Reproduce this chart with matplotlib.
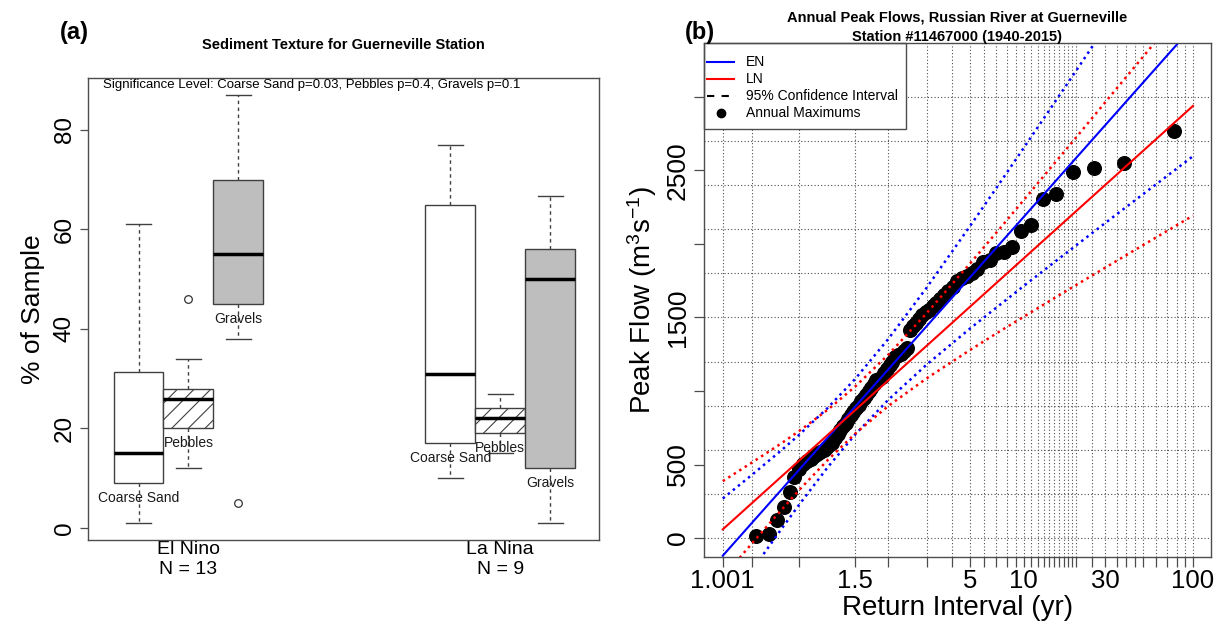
import numpy as np
import matplotlib
matplotlib.use("Agg")
import matplotlib.pyplot as plt
from matplotlib.patches import Rectangle
from matplotlib.ticker import FixedLocator, FixedFormatter, NullLocator

plt.rcParams['font.family'] = ['Liberation Sans', 'DejaVu Sans']
plt.rcParams['mathtext.fontset'] = 'custom'
plt.rcParams['mathtext.rm'] = 'Liberation Sans'
plt.rcParams['mathtext.it'] = 'Liberation Sans:italic'
plt.rcParams['hatch.linewidth'] = 0.8

# ---------------- Panel (a) data ----------------
groups = ["El Nino", "La Nina"]
group_n = [13, 9]
textures = ["Coarse Sand", "Pebbles", "Gravels"]
# (whislo, q1, median, q3, whishi, fliers)
el_nino_stats = {
    "Coarse Sand": (1, 9, 15, 31.3, 61, []),
    "Pebbles": (12, 20, 26, 28, 34, [46]),
    "Gravels": (38, 45, 55, 70, 87, [5]),
}
la_nina_stats = {
    "Coarse Sand": (10, 17, 31, 65, 77, []),
    "Pebbles": (15, 19.1, 22, 24, 27, []),
    "Gravels": (1, 12, 50, 56, 66.7, []),
}
sig_text = "Significance Level: Coarse Sand p=0.03, Pebbles p=0.4, Gravels p=0.1"

# ---------------- Panel (b) data ----------------
peak_flows = [2769, 2553, 2515, 2492, 2338, 2304, 2129, 2091, 1978, 1948,
              1941, 1891, 1875, 1830, 1800, 1785, 1770, 1745, 1710, 1680,
              1655, 1625, 1600, 1575, 1551, 1535, 1517, 1490, 1460, 1440,
              1415, 1291, 1275, 1255, 1245, 1230, 1200, 1175, 1150, 1120,
              1095, 1085, 1075, 1050, 1020, 1000, 975, 950, 930, 905,
              885, 860, 835, 810, 781, 760, 735, 710, 680, 645,
              630, 615, 600, 585, 570, 555, 540, 525, 505, 470,
              415, 315, 209, 122, 25, 14]
fit_T = [1.001, 100]
en_fit = [-120, 3480]
ln_fit = [59, 2939]
ci_T = [1.001, 1.01, 1.05, 1.1, 1.25, 1.5, 2, 3, 5, 7, 10, 15, 20, 30, 50, 70, 100]
en_upper = [269, 429, 599, 701, 885, 1082, 1354, 1705, 2120, 2382, 2655, 2960, 3174, 3476, 3853, 4101, 4363]
en_lower = [-509, -221, 65, 225, 481, 704, 940, 1181, 1424, 1568, 1715, 1876, 1988, 2144, 2337, 2463, 2597]
ln_upper = [387, 513, 646, 727, 872, 1030, 1247, 1531, 1866, 2078, 2300, 2548, 2721, 2966, 3271, 3471, 3685]
ln_lower = [-269, -37, 194, 325, 530, 710, 898, 1087, 1278, 1392, 1506, 1632, 1719, 1840, 1991, 2089, 2193]
x_grid_T = [1.001, 1.01, 1.1, 1.5, 2, 3, 4, 5, 6, 7, 8, 9, 10, 11, 12, 13, 14, 15,
            16, 17, 18, 19, 20, 25, 30, 35, 40, 45, 50, 60, 70, 80, 90, 100]
x_label_T = {1.001: "1.001", 1.5: "1.5", 5: "5", 10: "10", 30: "30", 100: "100"}
y_ticks_b = [0, 500, 1000, 1500, 2000, 2500, 3000]
y_ticklabels_b = ["0", "500", "", "1500", "", "2500", ""]
y_grid_b = [0, 300, 600, 900, 1200, 1500, 1800, 2100, 2400, 2700, 3000]
legend_labels = ["EN", "LN", "95% Confidence Interval", "Annual Maximums"]

fig = plt.figure(figsize=(12.24, 6.31), dpi=100)
W, H = 1224, 631

def ax_rect(l, t, r, b):
    return [l / W, 1 - b / H, (r - l) / W, (b - t) / H]

# ================= Panel (a) =================
axa = fig.add_axes(ax_rect(88, 78, 599, 540))
fills = {"Coarse Sand": ("white", None), "Pebbles": ("white", "//"), "Gravels": ("#bebebe", None)}
offsets = [-0.16, 0.0, 0.16]
edge = "0.25"
for gi, stats_d in enumerate([el_nino_stats, la_nina_stats]):
    for ti, tex in enumerate(textures):
        wl, q1, med, q3, wh, fl = stats_d[tex]
        pos = gi + 1 + offsets[ti]
        st = [dict(whislo=wl, q1=q1, med=med, q3=q3, whishi=wh, fliers=fl)]
        fc, hatch = fills[tex]
        axa.bxp(st, positions=[pos], widths=0.16, capwidths=0.08, patch_artist=True,
                boxprops=dict(facecolor=fc, edgecolor=edge, linewidth=1.0, hatch=hatch),
                whiskerprops=dict(color=edge, linewidth=1.0, linestyle=(0, (2.5, 2.5))),
                capprops=dict(color=edge, linewidth=1.0),
                medianprops=dict(color="black", linewidth=2.5),
                flierprops=dict(marker="o", markerfacecolor="none", markeredgecolor="0.2",
                                markersize=5.5, markeredgewidth=0.9),
                manage_ticks=False)
        axa.text(pos, q1 - 1.6, tex, ha="center", va="top", fontsize=10, color="0.1")

axa.set_xlim(0.678, 2.317)
axa.set_ylim(-2.44, 90.44)
axa.set_xticks([1, 2])
axa.set_xticklabels([f"{g}\nN = {n}" for g, n in zip(groups, group_n)], fontsize=14)
axa.tick_params(axis="x", length=0, pad=1)
axa.set_yticks([0, 20, 40, 60, 80])
axa.set_yticklabels(["0", "20", "40", "60", "80"], fontsize=17.5, rotation=90, va="center")
axa.tick_params(axis="y", length=6, width=0.9, color="0.3", pad=3)
for s in axa.spines.values():
    s.set_color("0.3")
    s.set_linewidth(1.0)
axa.set_ylabel("% of Sample", fontsize=19)
axa.yaxis.label.set_va("center")
axa.yaxis.set_label_coords(-0.107, 0.5)
axa.text(0.03, 0.997, sig_text, transform=axa.transAxes, ha="left", va="top", fontsize=9.5)
fig.text(343.5 / W, 1 - 45 / H, "Sediment Texture for Guerneville Station",
         ha="center", va="center", fontsize=10.5, fontweight="bold")
fig.text(74 / W, 1 - 33 / H, "(a)", ha="center", va="center", fontsize=17, fontweight="bold")

# ================= Panel (b) =================
def gum_fwd(T):
    T = np.asarray(T, dtype=float)
    with np.errstate(all="ignore"):
        return -np.log(-np.log(1.0 - 1.0 / T))

def gum_inv(y):
    y = np.asarray(y, dtype=float)
    with np.errstate(all="ignore"):
        return 1.0 / (1.0 - np.exp(-np.exp(-y)))

axb = fig.add_axes(ax_rect(704, 43, 1211, 557))
axb.set_xscale("function", functions=(gum_fwd, gum_inv))
axb.set_xlim(1.000127, 128.3)
axb.set_ylim(-129, 3367)

gridkw = dict(color="0.3", linewidth=0.8, linestyle=(0, (1, 2)), zorder=0.5)
for t in x_grid_T:
    axb.axvline(t, **gridkw)
for v in y_grid_b:
    axb.axhline(v, **gridkw)

n = len(peak_flows)
ranks = np.arange(1, n + 1)
ret_int = (n + 1) / ranks
axb.plot(ret_int, peak_flows, "o", color="black", markersize=9.8, zorder=2, linestyle="none")

dot = (0, (1.0, 1.6))
axb.plot(ci_T, en_upper, color="blue", linewidth=1.8, linestyle=dot, zorder=3)
axb.plot(ci_T, en_lower, color="blue", linewidth=1.8, linestyle=dot, zorder=3)
axb.plot(ci_T, ln_upper, color="red", linewidth=1.8, linestyle=dot, zorder=3)
axb.plot(ci_T, ln_lower, color="red", linewidth=1.8, linestyle=dot, zorder=3)
axb.plot(fit_T, en_fit, color="blue", linewidth=1.5, zorder=3)
axb.plot(fit_T, ln_fit, color="red", linewidth=1.5, zorder=3)

axb.xaxis.set_major_locator(FixedLocator(x_grid_T))
axb.xaxis.set_major_formatter(FixedFormatter([x_label_T.get(t, "") for t in x_grid_T]))
axb.xaxis.set_minor_locator(NullLocator())
axb.tick_params(axis="x", length=7, width=0.9, color="0.3", labelsize=18.5, pad=2)
axb.set_yticks(y_ticks_b)
axb.set_yticklabels(y_ticklabels_b, fontsize=19, rotation=90, va="center")
axb.tick_params(axis="y", length=7, width=0.9, color="0.3", pad=3)
for s in axb.spines.values():
    s.set_color("0.3")
    s.set_linewidth(1.0)
    s.set_zorder(12)

axb.set_xlabel("Return Interval (yr)", fontsize=20)
axb.xaxis.label.set_va("center")
axb.xaxis.set_label_coords(0.5, -0.1)
axb.set_ylabel(r"Peak Flow (m$^{3}$s$^{-1}$)", fontsize=20)
axb.yaxis.label.set_va("center")
axb.yaxis.set_label_coords(-0.122, 0.5)

# Legend box drawn in axes-fraction coordinates (R-style legend)
axw, axh = 1211 - 704, 557 - 43
def fx(px):
    return (px - 704) / axw
def fy(py):
    return (557 - py) / axh
axb.add_patch(Rectangle((0, fy(129)), fx(906), 1 - fy(129), transform=axb.transAxes,
                        facecolor="white", edgecolor="0.3", linewidth=1.0, zorder=10,
                        clip_on=False))
row_y = [62, 79, 96, 113]
handle_styles = [dict(color="blue", linewidth=1.5, linestyle="-"),
                 dict(color="red", linewidth=1.5, linestyle="-"),
                 dict(color="black", linewidth=1.5, linestyle=(0, (3.5, 3.5)))]
for i, lab in enumerate(legend_labels):
    yy = fy(row_y[i])
    if i < 3:
        axb.plot([fx(707), fx(734)], [yy, yy], transform=axb.transAxes, zorder=11,
                 clip_on=False, **handle_styles[i])
    else:
        axb.plot([fx(720.5)], [yy], "o", color="black", markersize=6, transform=axb.transAxes,
                 zorder=11, clip_on=False)
    axb.text(fx(746), yy, lab, transform=axb.transAxes, ha="left", va="center",
             fontsize=10, zorder=11)

fig.text(957.5 / W, 1 - 17 / H, "Annual Peak Flows, Russian River at Guerneville",
         ha="center", va="center", fontsize=10.5, fontweight="bold")
fig.text(957.5 / W, 1 - 37 / H, "Station #11467000 (1940-2015)",
         ha="center", va="center", fontsize=10.5, fontweight="bold")
fig.text(700 / W, 1 - 33 / H, "(b)", ha="center", va="center", fontsize=17, fontweight="bold")

fig.savefig("out.png", dpi=100)
